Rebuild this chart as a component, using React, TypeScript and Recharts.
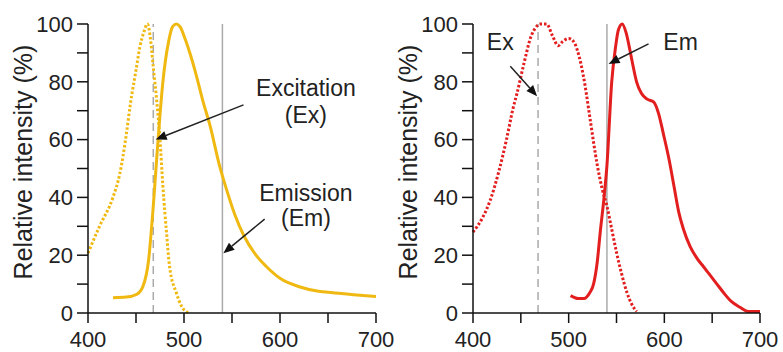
import { LineChart, Line, XAxis, YAxis, ReferenceLine, ReferenceDot } from "recharts";

// wavelength (nm) / relative intensity (%)
const leftExX = [400, 412, 426, 433, 440, 444, 450, 454, 458, 462, 465, 468, 472, 475, 478, 482, 485, 492, 498, 505];
const leftExY = [20.7, 30, 40, 48, 62, 72, 84, 92, 97, 100, 95, 85, 72, 60, 44, 27, 16, 7, 2, 0];
const leftEmX = [426, 440, 451, 457, 463, 468, 473, 478, 484, 488, 492, 496, 501, 507, 513, 520, 527, 537, 545, 553, 562, 575, 586, 600, 621, 640, 655, 680, 700];
const leftEmY = [5.3, 5.5, 6.5, 9, 18, 37, 60, 80, 94, 99, 100, 99, 95, 89, 82, 73, 65, 51, 42, 34, 27, 20, 16, 12, 9, 7.5, 7, 6.2, 5.7];

const rightExX = [400, 410, 418, 427, 435, 442, 446, 453, 461, 465, 470, 477, 483, 489, 494, 500, 505, 509, 517, 522, 530, 535, 540, 545, 550, 555, 561, 566, 571];
const rightExY = [28, 33, 39, 49, 60, 71, 76, 86, 96, 98.5, 100, 100, 96, 92.5, 94, 95, 94, 91, 79, 68, 51, 43, 37, 29, 21, 14, 7, 3, 0.5];
const rightEmX = [502, 510, 516, 522, 526, 530, 533, 537, 540, 545, 549, 552, 556, 560, 564, 567, 571, 576, 582, 589, 594, 599, 605, 610, 615, 620, 627, 634, 641, 648, 655, 662, 670, 679, 688, 700];
const rightEmY = [6, 5, 5, 7, 10, 18, 28, 40, 51, 80, 92, 98, 100, 97, 91, 86, 80, 76, 74, 73, 69, 62, 53, 44, 35, 29, 23, 19, 16, 13, 10, 7, 4, 2, 0.5, 0.5];

const xTicks = [400, 450, 500, 550, 600, 650, 700];
const yTicks = [0, 10, 20, 30, 40, 50, 60, 70, 80, 90, 100];
const exLine = 468;
const emLine = 540;

const pts = (xs: number[], ys: number[]) => xs.map((x, i) => ({ x, y: ys[i] }));

const FONT = "'Liberation Sans', Arial, sans-serif";
const YELLOW = "#f0b912";
const RED = "#e31e1e";

function Arrow(p: any) {
  const { x1, y1, x2, y2 } = p;
  const dx = x2 - x1, dy = y2 - y1;
  const len = Math.sqrt(dx * dx + dy * dy);
  const ux = dx / len, uy = dy / len;
  const hl = 11, hw = 4.5;
  const bx = x2 - ux * hl, by = y2 - uy * hl;
  return (
    <g>
      <line x1={x1} y1={y1} x2={bx} y2={by} stroke="#222" strokeWidth={1.5} />
      <polygon
        points={`${x2},${y2} ${bx - uy * hw},${by + ux * hw} ${bx + uy * hw},${by - ux * hw}`}
        fill="#111"
      />
    </g>
  );
}

const note = (text: string) => (p: any) => (
  <text x={p.cx} y={p.cy} textAnchor="middle" fontSize={23} fontFamily={FONT} fill="#222">
    {text}
  </text>
);

const yTitle = (p: any) => {
  const vb = p.viewBox;
  const x = vb.x + vb.width - 56;
  const y = 162;
  return (
    <text x={x} y={y} transform={`rotate(-90 ${x} ${y})`} textAnchor="middle" fontSize={25} fontFamily={FONT} fill="#222">
      Relative intensity (%)
    </text>
  );
};

type Note = { x: number; y: number; text: string };
type Arr = { from: [number, number]; to: [number, number] };

function Panel({ ex, em, color, notes, arrows, width, marginRight }: {
  ex: { x: number; y: number }[]; em: { x: number; y: number }[]; color: string;
  notes: Note[]; arrows: Arr[]; width: number; marginRight: number;
}) {
  return (
    <LineChart width={width} height={352} margin={{ top: 24, right: marginRight, left: 0, bottom: 0 }}>
      <XAxis
        type="number" dataKey="x" domain={[400, 700]} ticks={xTicks} interval={0}
        tickFormatter={(v) => (v % 100 === 0 ? String(v) : "")}
        height={39} tickSize={10} tickMargin={8}
        stroke="#111" strokeWidth={1.5}
        tick={{ fontSize: 22, fill: "#222", fontFamily: FONT }}
      />
      <YAxis
        type="number" domain={[0, 100]} ticks={yTicks} interval={0}
        tickFormatter={(v) => (v % 20 === 0 ? String(v) : "")}
        width={88} tickSize={11} tickMargin={4}
        stroke="#111" strokeWidth={1.5}
        tick={{ fontSize: 22, fill: "#222", fontFamily: FONT }}
        label={yTitle}
      />
      <ReferenceLine x={exLine} stroke="#aaa" strokeWidth={1.5} strokeDasharray="8 5" />
      <ReferenceLine x={emLine} stroke="#aaa" strokeWidth={1.5} />
      <Line data={ex} dataKey="y" type="monotone" stroke={color} strokeWidth={3} strokeDasharray="2.5 2" dot={false} isAnimationActive={false} />
      <Line data={em} dataKey="y" type="monotone" stroke={color} strokeWidth={3} dot={false} isAnimationActive={false} />
      {arrows.map((a, i) => (
        <ReferenceLine
          key={"a" + i}
          segment={[{ x: a.from[0], y: a.from[1] }, { x: a.to[0], y: a.to[1] }]}
          shape={Arrow}
        />
      ))}
      {notes.map((n, i) => (
        <ReferenceDot key={"n" + i} x={n.x} y={n.y} r={0} shape={note(n.text)} />
      ))}
    </LineChart>
  );
}

const leftNotes: Note[] = [
  { x: 627, y: 75.2, text: "Excitation" },
  { x: 627, y: 65.7, text: "(Ex)" },
  { x: 627, y: 38.6, text: "Emission" },
  { x: 627, y: 30.2, text: "(Em)" },
];
const leftArrows: Arr[] = [
  { from: [562, 72], to: [470.5, 60] },
  { from: [584, 32.5], to: [541, 20.7] },
];
const rightNotes: Note[] = [
  { x: 428.5, y: 90.9, text: "Ex" },
  { x: 617, y: 90.9, text: "Em" },
];
const rightArrows: Arr[] = [
  { from: [439, 85.4], to: [467, 75] },
  { from: [583.5, 93.1], to: [541.7, 86.2] },
];

export default function App() {
  return (
    <div style={{ position: "absolute", left: 0, top: 0, width: 783, height: 352, background: "#fff" }}>
      <div style={{ position: "absolute", left: 0, top: 0 }}>
        <Panel ex={pts(leftExX, leftExY)} em={pts(leftEmX, leftEmY)} color={YELLOW}
          notes={leftNotes} arrows={leftArrows} width={400} marginRight={24} />
      </div>
      <div style={{ position: "absolute", left: 385, top: 0 }}>
        <Panel ex={pts(rightExX, rightExY)} em={pts(rightEmX, rightEmY)} color={RED}
          notes={rightNotes} arrows={rightArrows} width={398} marginRight={23} />
      </div>
    </div>
  );
}
